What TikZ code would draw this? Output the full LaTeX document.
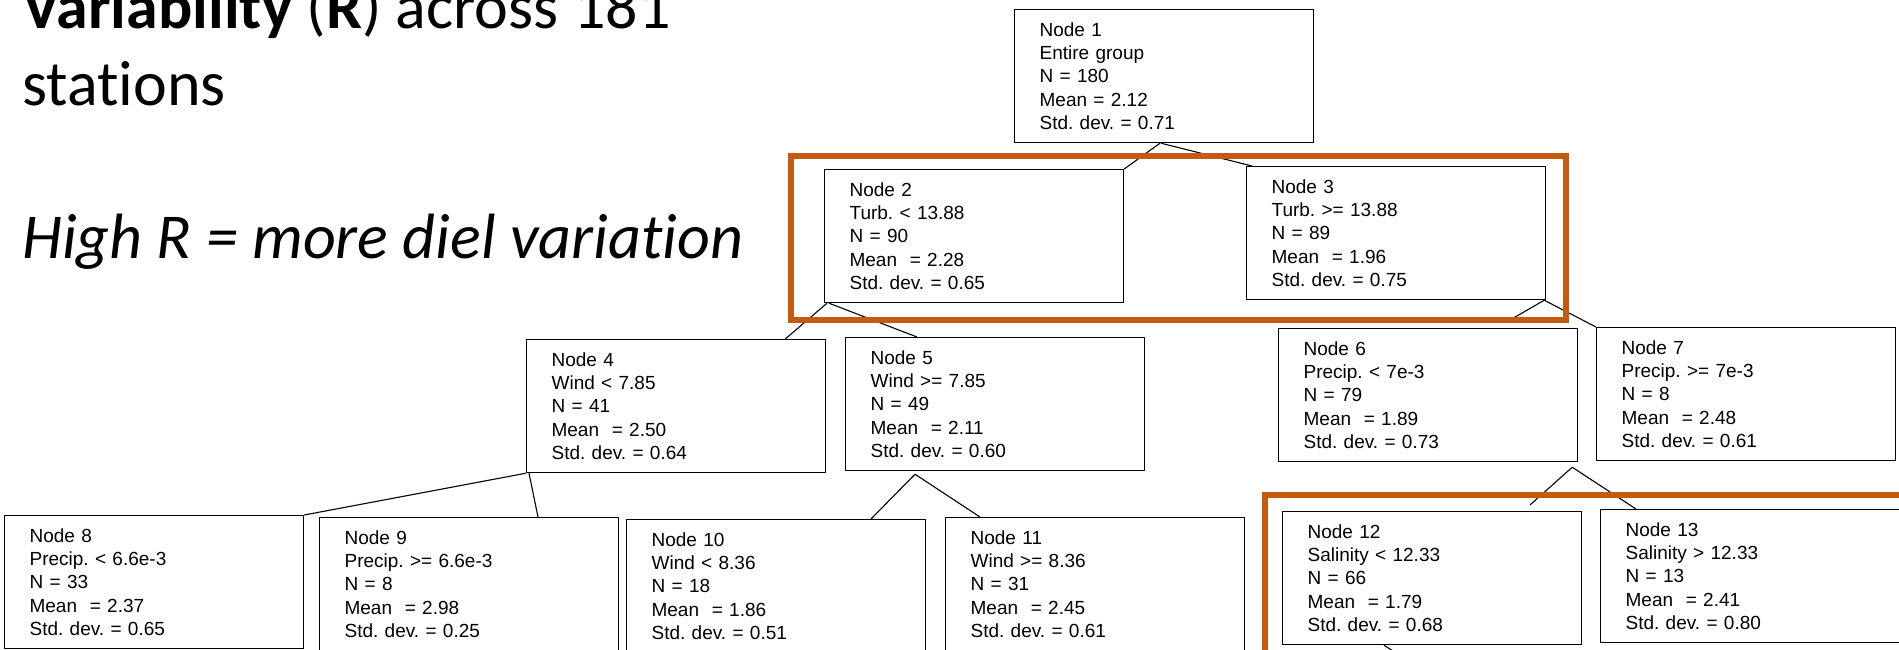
\documentclass[tikz,border=0pt]{standalone}
\usepackage{fontspec}
\setmainfont{Liberation Sans}
\newfontfamily\titlefont[Ligatures=NoCommon]{Carlito}
\usetikzlibrary{calc}
\definecolor{hiorange}{RGB}{197,90,17}
\frenchspacing
\begin{document}
\begin{tikzpicture}[x=1pt,y=-1pt,
  treebox/.style={draw=black, line width=1.2pt, rectangle, anchor=north west,
    minimum width=299pt, minimum height=133pt, text width=249pt,
    inner xsep=25pt, inner ysep=0pt, align=left,
    font=\frenchspacing\fontsize{19}{23.3}\selectfont},
  link/.style={draw=black, line width=1.1pt},
  highlight/.style={draw=hiorange, line width=6pt},
  titletext/.style={anchor=base west, inner sep=0pt,
    font=\titlefont\fontsize{64}{77}\selectfont}]
\path[use as bounding box, clip] (0,0) rectangle (1899,649);

% title texts
\node[titletext] (t1) at (22,28) {\textbf{Variability} (\textbf{R}) across 181};
\node[titletext] (t2) at (22,105) {stations};
\node[titletext] (t3) at (22,258) {\itshape High R = more diel variation};

% tree boxes
\node[treebox] (n1) at (1014,9) {Node 1\\Entire group\\N = 180\\Mean = 2.12\\Std. dev. = 0.71};
\node[treebox] (n2) at (824,169) {Node 2\\Turb. < 13.88\\N = 90\\Mean\ \ = 2.28\\Std. dev. = 0.65};
\node[treebox] (n3) at (1246,166) {Node 3\\Turb. >= 13.88\\N = 89\\Mean\ \ = 1.96\\Std. dev. = 0.75};
\node[treebox] (n4) at (526,339) {Node 4\\Wind < 7.85\\N = 41\\Mean\ \ = 2.50\\Std. dev. = 0.64};
\node[treebox] (n5) at (845,337) {Node 5\\Wind >= 7.85\\N = 49\\Mean\ \ = 2.11\\Std. dev. = 0.60};
\node[treebox] (n6) at (1278,328) {Node 6\\Precip. < 7e-3\\N = 79\\Mean\ \ = 1.89\\Std. dev. = 0.73};
\node[treebox] (n7) at (1596,327) {Node 7\\Precip. >= 7e-3\\N = 8\\Mean\ \ = 2.48\\Std. dev. = 0.61};
\node[treebox] (n8) at (4,515) {Node 8\\Precip. < 6.6e-3\\N = 33\\Mean\ \ = 2.37\\Std. dev. = 0.65};
\node[treebox] (n9) at (319,517) {Node 9\\Precip. >= 6.6e-3\\N = 8\\Mean\ \ = 2.98\\Std. dev. = 0.25};
\node[treebox] (n10) at (626,519) {Node 10\\Wind < 8.36\\N = 18\\Mean\ \ = 1.86\\Std. dev. = 0.51};
\node[treebox] (n11) at (945,517) {Node 11\\Wind >= 8.36\\N = 31\\Mean\ \ = 2.45\\Std. dev. = 0.61};
\node[treebox] (n12) at (1282,511) {Node 12\\Salinity < 12.33\\N = 66\\Mean\ \ = 1.79\\Std. dev. = 0.68};
\node[treebox] (n13) at (1600,509) {Node 13\\Salinity > 12.33\\N = 13\\Mean\ \ = 2.41\\Std. dev. = 0.80};

% free ends
\coordinate (c36) at (1510,320);
\coordinate (c12) at (1396,653);

% connectors
\draw[link] ($(n1.south west)+(146,0)$) -- (n2.north east);
\draw[link] ($(n1.south west)+(147,0)$) -- ($(n3.north west)+(6,0)$);
\draw[link] ($(n2.south west)+(3,0)$) -- ($(n4.north east)+(-41,0)$);
\draw[link] ($(n2.south west)+(5,0)$) -- ($(n5.north west)+(72,0)$);
\draw[link] ($(n3.south east)+(-2,0)$) -- (c36);
\draw[link] ($(n3.south east)+(-2,0)$) -- (n7.north west);
\draw[link] (n4.south west) -- (n8.north east);
\draw[link] ($(n4.south west)+(3,0)$) -- ($(n9.north west)+(219,0)$);
\draw[link] ($(n5.south west)+(70,3)$) -- ($(n10.north west)+(245,0)$);
\draw[link] ($(n5.south west)+(70,3)$) -- ($(n11.north west)+(35,0)$);
\draw[link] ($(n6.south east)+(-6,5)$) -- ($(n12.north west)+(248,-6)$);
\draw[link] ($(n6.south east)+(-6,5)$) -- ($(n13.north west)+(36,0)$);
\draw[link] ($(n12.south west)+(102,0)$) -- (c12);

% highlight frames
\draw[highlight] (791,156) rectangle (1566,320);
\draw[highlight] (1265,495) rectangle (1915,680);
\end{tikzpicture}
\end{document}
